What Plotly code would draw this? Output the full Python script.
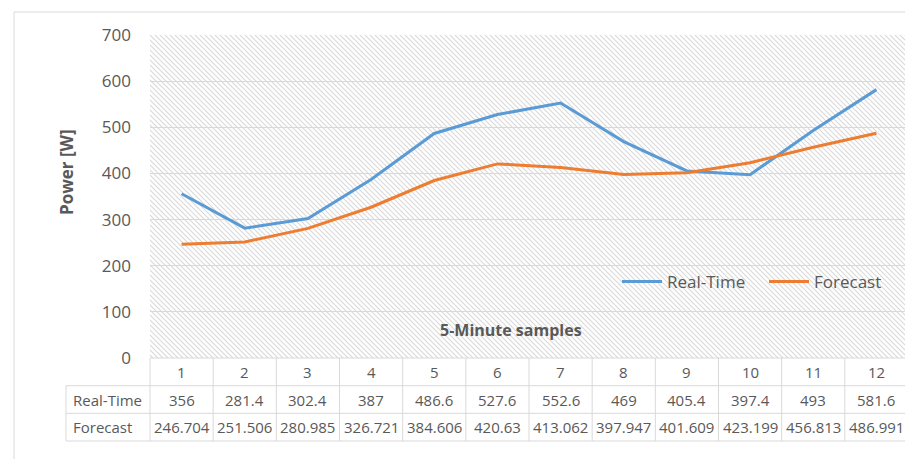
import base64
import plotly.graph_objects as go

# ---- data ----
categories = list(range(1, 13))
real_time = [356, 281.4, 302.4, 387, 486.6, 527.6, 552.6, 469, 405.4, 397.4, 493, 581.6]
forecast = [246.704, 251.506, 280.985, 326.721, 384.606, 420.63, 413.062, 397.947, 401.609, 423.199, 456.813, 486.991]
real_time_labels = ["356", "281.4", "302.4", "387", "486.6", "527.6", "552.6", "469", "405.4", "397.4", "493", "581.6"]
forecast_labels = ["246.704", "251.506", "280.985", "326.721", "384.606", "420.63", "413.062", "397.947", "401.609", "423.199", "456.813", "486.991"]
series_names = ["Real-Time", "Forecast"]
y_ticks = [0, 100, 200, 300, 400, 500, 600, 700]

# ---- layout geometry (pixels); page body has an 8px margin ----
OFF = 8
W, H = 913 - OFF, 459 - OFF
L, R, T, B = 150 - OFF, 5, 35 - OFF, 101
PW, PH = W - L - R, H - T - B

def px_x(x):
    return (x - OFF - L) / PW

def px_y(y):
    return (H - B - (y - OFF)) / PH

TEXT = "#595959"
GRID = "#d9d9d9"
FONT = "Open Sans"
BLUE = "#5B9BD5"
ORANGE = "#ED7D31"

# hatch background image
period = 5
svg = (
    f'<svg xmlns="http://www.w3.org/2000/svg" width="{PW}" height="{PH}">'
    f'<defs><pattern id="h" patternUnits="userSpaceOnUse" width="{period}" height="{period}">'
    f'<rect width="{period}" height="{period}" fill="white"/>'
    f'<path d="M-1,-1 L{period+1},{period+1} M-1,{period-1} L1,{period+1} M{period-1},-1 L{period+1},1" '
    f'stroke="#d9d9d9" stroke-width="1.1"/></pattern></defs>'
    f'<rect width="{PW}" height="{PH}" fill="url(#h)"/></svg>'
)
src = "data:image/svg+xml;base64," + base64.b64encode(svg.encode()).decode()

fig = go.Figure()
fig.add_trace(go.Scatter(x=categories, y=real_time, name=series_names[0], mode="lines",
                         line=dict(color=BLUE, width=3)))
fig.add_trace(go.Scatter(x=categories, y=forecast, name=series_names[1], mode="lines",
                         line=dict(color=ORANGE, width=3)))

shapes = []
annotations = []

# chart frame
shapes.append(dict(type="rect", xref="paper", yref="paper", x0=px_x(14), x1=1.05,
                   y0=-0.5, y1=px_y(12), line=dict(color=GRID, width=1)))

# table rows
row_lines = [358, 385.7, 413.3, 441]
row_centers = [372, 399.5, 427]
for i, yl in enumerate(row_lines):
    x0 = 0 if i == 0 else px_x(66)
    shapes.append(dict(type="line", xref="paper", yref="paper", x0=x0, x1=1,
                       y0=px_y(yl), y1=px_y(yl), line=dict(color=GRID, width=1)))
# vertical lines
for k in range(13):
    xv = k / 12
    shapes.append(dict(type="line", xref="paper", yref="paper", x0=xv, x1=xv,
                       y0=px_y(row_lines[0]), y1=px_y(row_lines[-1]), line=dict(color=GRID, width=1)))
shapes.append(dict(type="line", xref="paper", yref="paper", x0=px_x(66), x1=px_x(66),
                   y0=px_y(row_lines[1]), y1=px_y(row_lines[-1]), line=dict(color=GRID, width=1)))

tfont = dict(family=FONT, size=15, color=TEXT)
for c, rv, fv in zip(categories, real_time_labels, forecast_labels):
    annotations.append(dict(x=c, xref="x", y=px_y(row_centers[0]), yref="paper", text=str(c),
                            showarrow=False, font=tfont, xanchor="center", yanchor="middle"))
    annotations.append(dict(x=c, xref="x", y=px_y(row_centers[1]), yref="paper", text=rv,
                            showarrow=False, font=tfont, xanchor="center", yanchor="middle"))
    annotations.append(dict(x=c, xref="x", y=px_y(row_centers[2]), yref="paper", text=fv,
                            showarrow=False, font=tfont, xanchor="center", yanchor="middle"))
for name, rc in zip(series_names, row_centers[1:]):
    annotations.append(dict(x=px_x(71), xref="paper", y=px_y(rc), yref="paper", text=name,
                            showarrow=False, font=tfont, xanchor="left", yanchor="middle"))

# axis titles
annotations.append(dict(x=px_x(511), xref="paper", y=px_y(330), yref="paper", text="<b>5-Minute samples</b>",
                        showarrow=False, font=dict(family=FONT, size=16, color=TEXT),
                        xanchor="center", yanchor="middle"))
annotations.append(dict(x=px_x(66), xref="paper", y=px_y(172), yref="paper", text="<b>Power [W]</b>",
                        showarrow=False, textangle=-90, font=dict(family=FONT, size=17, color=TEXT),
                        xanchor="center", yanchor="middle"))

fig.update_layout(
    width=W, height=H,
    margin=dict(l=L, r=R, t=T, b=B, autoexpand=False),
    paper_bgcolor="white",
    plot_bgcolor="rgba(0,0,0,0)",
    font=dict(family=FONT, color=TEXT),
    images=[dict(source=src, xref="paper", yref="paper", x=0, y=1, sizex=1, sizey=1,
                 xanchor="left", yanchor="top", sizing="stretch", layer="below")],
    xaxis=dict(range=[0.5, 12.5], showticklabels=False, showgrid=False, zeroline=False,
               showline=False, fixedrange=True),
    yaxis=dict(range=[0, 700], tickvals=y_ticks, showgrid=True, gridcolor=GRID, gridwidth=1,
               zeroline=False, showline=False, tickfont=dict(family=FONT, size=17, color=TEXT),
               ticklabelstandoff=18, ticks=""),
    legend=dict(orientation="h", x=px_x(617), y=px_y(282), xanchor="left", yanchor="middle",
                bgcolor="rgba(0,0,0,0)", font=dict(family=FONT, size=17, color=TEXT),
                itemwidth=40, entrywidth=92, entrywidthmode="pixels", tracegroupgap=0),
    shapes=shapes,
    annotations=annotations,
    showlegend=True,
)

fig.write_html("out.html")
